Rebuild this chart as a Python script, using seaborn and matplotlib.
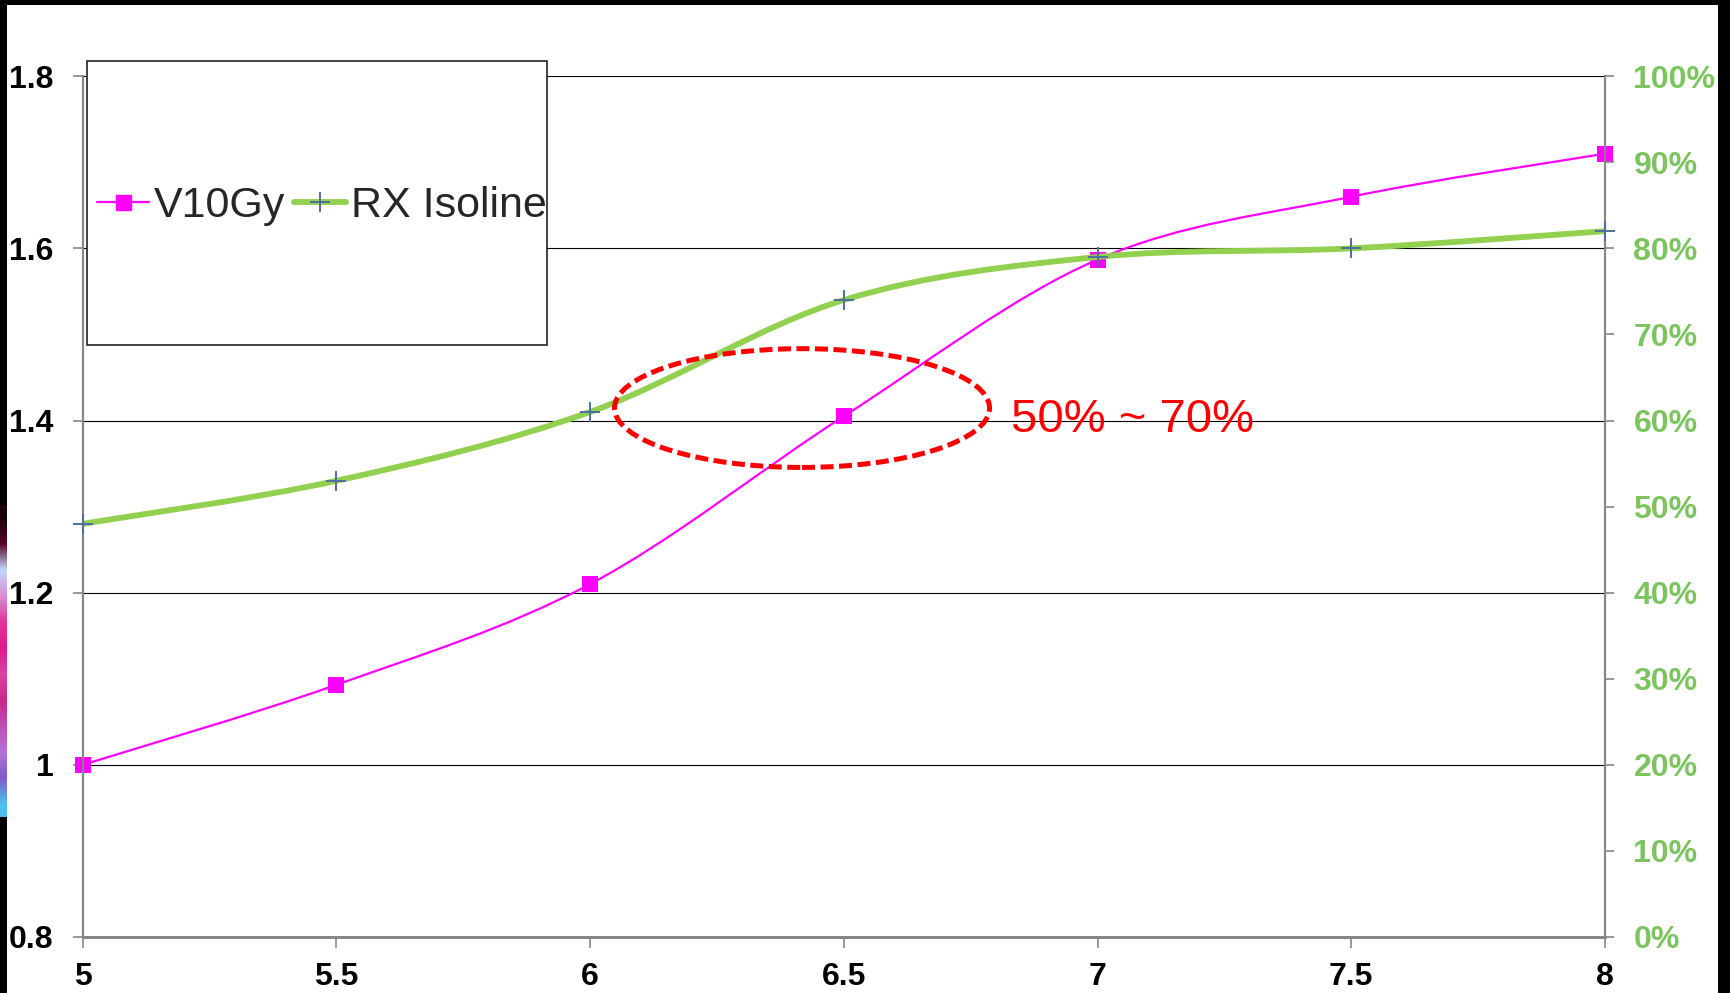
import numpy as np
import matplotlib
matplotlib.use("Agg")
import matplotlib.pyplot as plt
import seaborn as sns
from matplotlib.path import Path
from matplotlib.patches import PathPatch, Ellipse, Rectangle
from matplotlib.lines import Line2D
from matplotlib.ticker import FuncFormatter, PercentFormatter

# ---- data -------------------------------------------------------------
dose_levels = [5.0, 5.5, 6.0, 6.5, 7.0, 7.5, 8.0]
v10gy = [1.000, 1.093, 1.210, 1.405, 1.587, 1.660, 1.710]
rx_isoline = [0.48, 0.53, 0.61, 0.74, 0.79, 0.80, 0.82]

left_ticks = [0.8, 1.0, 1.2, 1.4, 1.6, 1.8]
right_ticks = [0.0, 0.1, 0.2, 0.3, 0.4, 0.5, 0.6, 0.7, 0.8, 0.9, 1.0]
x_ticks = [5, 5.5, 6, 6.5, 7, 7.5, 8]

series_names = ["V10Gy", "RX Isoline"]
range_note = "50% ~ 70%"
range_x, range_y = 6.4176, 1.4145          # centre of the highlighted range
range_w, range_h = 0.739, 0.138

# ---- style ------------------------------------------------------------
sns.set_theme(style="white")
plt.rcParams["font.family"] = ["Liberation Sans", "DejaVu Sans"]

MAGENTA = "#FF00FF"
GREEN = "#92D050"
CROSS = "#4F6EA0"
RIGHT_LBL = "#7CC55E"
SPINE = "#868686"


def smooth_path(xs, ys):
    """Cubic Bezier path through the points (Catmull-Rom style tangents)."""
    pts = np.column_stack([xs, ys]).astype(float)
    n = len(pts)
    verts = [pts[0]]
    codes = [Path.MOVETO]
    for i in range(n - 1):
        p0 = pts[i - 1] if i > 0 else pts[i]
        p1 = pts[i]
        p2 = pts[i + 1]
        p3 = pts[i + 2] if i + 2 < n else pts[i + 1]
        verts += [p1 + (p2 - p0) / 6.0, p2 - (p3 - p1) / 6.0, p2]
        codes += [Path.CURVE4] * 3
    return Path(verts, codes)


fig = plt.figure(figsize=(17.30, 9.93), dpi=100)
fig.patch.set_facecolor("white")

ax = fig.add_axes([82.7 / 1730, 1 - 937 / 993, (1605 - 82.7) / 1730, (937 - 76.2) / 993])
ax2 = ax.twinx()

# primary axis: V10Gy
ax.set_xlim(5, 8)
ax.set_ylim(0.8, 1.8)
ax.set_yticks(left_ticks)
ax.set_xticks(x_ticks)
ax.yaxis.set_major_formatter(FuncFormatter(lambda v, p: f"{v:g}"))
ax.xaxis.set_major_formatter(FuncFormatter(lambda v, p: f"{v:g}"))
for y in left_ticks[1:]:
    ax.axhline(y, color="black", lw=0.8, zorder=0.5)

ax.add_patch(PathPatch(smooth_path(dose_levels, v10gy), fill=False,
                       edgecolor=MAGENTA, lw=1.6, zorder=2))
sns.scatterplot(x=dose_levels, y=v10gy, ax=ax, marker="s", s=118,
                color=MAGENTA, edgecolor=MAGENTA, linewidth=0,
                zorder=3, clip_on=False, legend=False)

# secondary axis: RX isoline coverage
ax2.set_ylim(0, 1)
ax2.set_yticks(right_ticks)
ax2.yaxis.set_major_formatter(PercentFormatter(1.0, decimals=0))
ax2.add_patch(PathPatch(smooth_path(dose_levels, rx_isoline), fill=False,
                        edgecolor=GREEN, lw=4.2, capstyle="round", zorder=2))
sns.scatterplot(x=dose_levels, y=rx_isoline, ax=ax2, marker="+", s=190,
                color=CROSS, linewidth=1.4, zorder=3, clip_on=False,
                legend=False)

# highlighted range
ax2.add_patch(Ellipse((range_x, range_y), range_w, range_h,
                      transform=ax.transData, fill=False, edgecolor="#FF0000",
                      lw=3.6, linestyle=(0, (2.6, 1.1)), zorder=4))
ax2.text(6.8295, 1.387, range_note, transform=ax.transData, color="#FF0000",
         fontsize=34, va="baseline", ha="left", zorder=4)

# spines and ticks
for a in (ax, ax2):
    a.spines["top"].set_visible(False)
    a.spines["left"].set_color(SPINE)
    a.spines["right"].set_color(SPINE)
    a.spines["bottom"].set_color(SPINE)
    a.spines["left"].set_linewidth(1.5)
    a.spines["right"].set_linewidth(1.5)
    a.spines["bottom"].set_linewidth(2.0)
    a.grid(False)

ax.tick_params(axis="y", which="major", direction="out", length=7.2, width=1.2,
               color=SPINE, pad=14, labelsize=23, labelcolor="black", left=True)
ax.tick_params(axis="x", which="major", direction="out", length=8, width=1.2,
               color=SPINE, pad=10, labelsize=23, labelcolor="black", bottom=True)
ax2.tick_params(axis="y", which="major", direction="out", length=6.5, width=1.2,
                color=SPINE, pad=14, labelsize=23, labelcolor=RIGHT_LBL, right=True)
for lbl in ax.get_xticklabels() + ax.get_yticklabels() + ax2.get_yticklabels():
    lbl.set_fontweight("bold")

# legend box
W, H = 1730.0, 993.0
fig.patches.append(Rectangle((87 / W, 1 - 345 / H), (547 - 87) / W, (345 - 61) / H,
                             transform=fig.transFigure, facecolor="white",
                             edgecolor="#222222", lw=1.2, zorder=5))
handles = [
    Line2D([], [], color=MAGENTA, lw=1.6, marker="s", markersize=10.8,
           markerfacecolor=MAGENTA, markeredgecolor=MAGENTA),
    Line2D([], [], color=GREEN, lw=4.2, marker="+", markersize=13.7,
           markeredgecolor=CROSS, markeredgewidth=1.4, solid_capstyle="round"),
]
leg = fig.legend(handles, series_names, loc="center", ncol=2,
                 bbox_to_anchor=(322 / W, 1 - 206 / H), frameon=False,
                 fontsize=31, handlelength=1.2, handletextpad=0.12,
                 columnspacing=0.2, borderaxespad=0, borderpad=0)
leg.set_zorder(6)

# surrounding frame
fig.patches.append(Rectangle((0, 1 - 5 / H), 1, 5 / H, transform=fig.transFigure,
                             facecolor="black", edgecolor="none", zorder=7))
fig.patches.append(Rectangle((0, 0), 7 / W, 1, transform=fig.transFigure,
                             facecolor="black", edgecolor="none", zorder=7))
fig.patches.append(Rectangle((1718 / W, 0), 12 / W, 1, transform=fig.transFigure,
                             facecolor="black", edgecolor="none", zorder=7))
strip = fig.add_axes([0, 1 - 817 / H, 7 / W, (817 - 505) / H], zorder=8)
strip_colors = np.array([
    [0.10, 0.00, 0.04], [0.35, 0.02, 0.15], [0.75, 0.85, 0.98], [0.85, 0.55, 0.85],
    [0.90, 0.20, 0.60], [0.85, 0.10, 0.55], [0.88, 0.25, 0.65], [0.80, 0.15, 0.55],
    [0.75, 0.30, 0.70], [0.70, 0.45, 0.85], [0.50, 0.35, 0.80], [0.30, 0.75, 0.95],
])
strip.imshow(strip_colors[:, None, :], aspect="auto", interpolation="bilinear")
strip.set_axis_off()

fig.savefig("out.png", dpi=100, facecolor="white")
